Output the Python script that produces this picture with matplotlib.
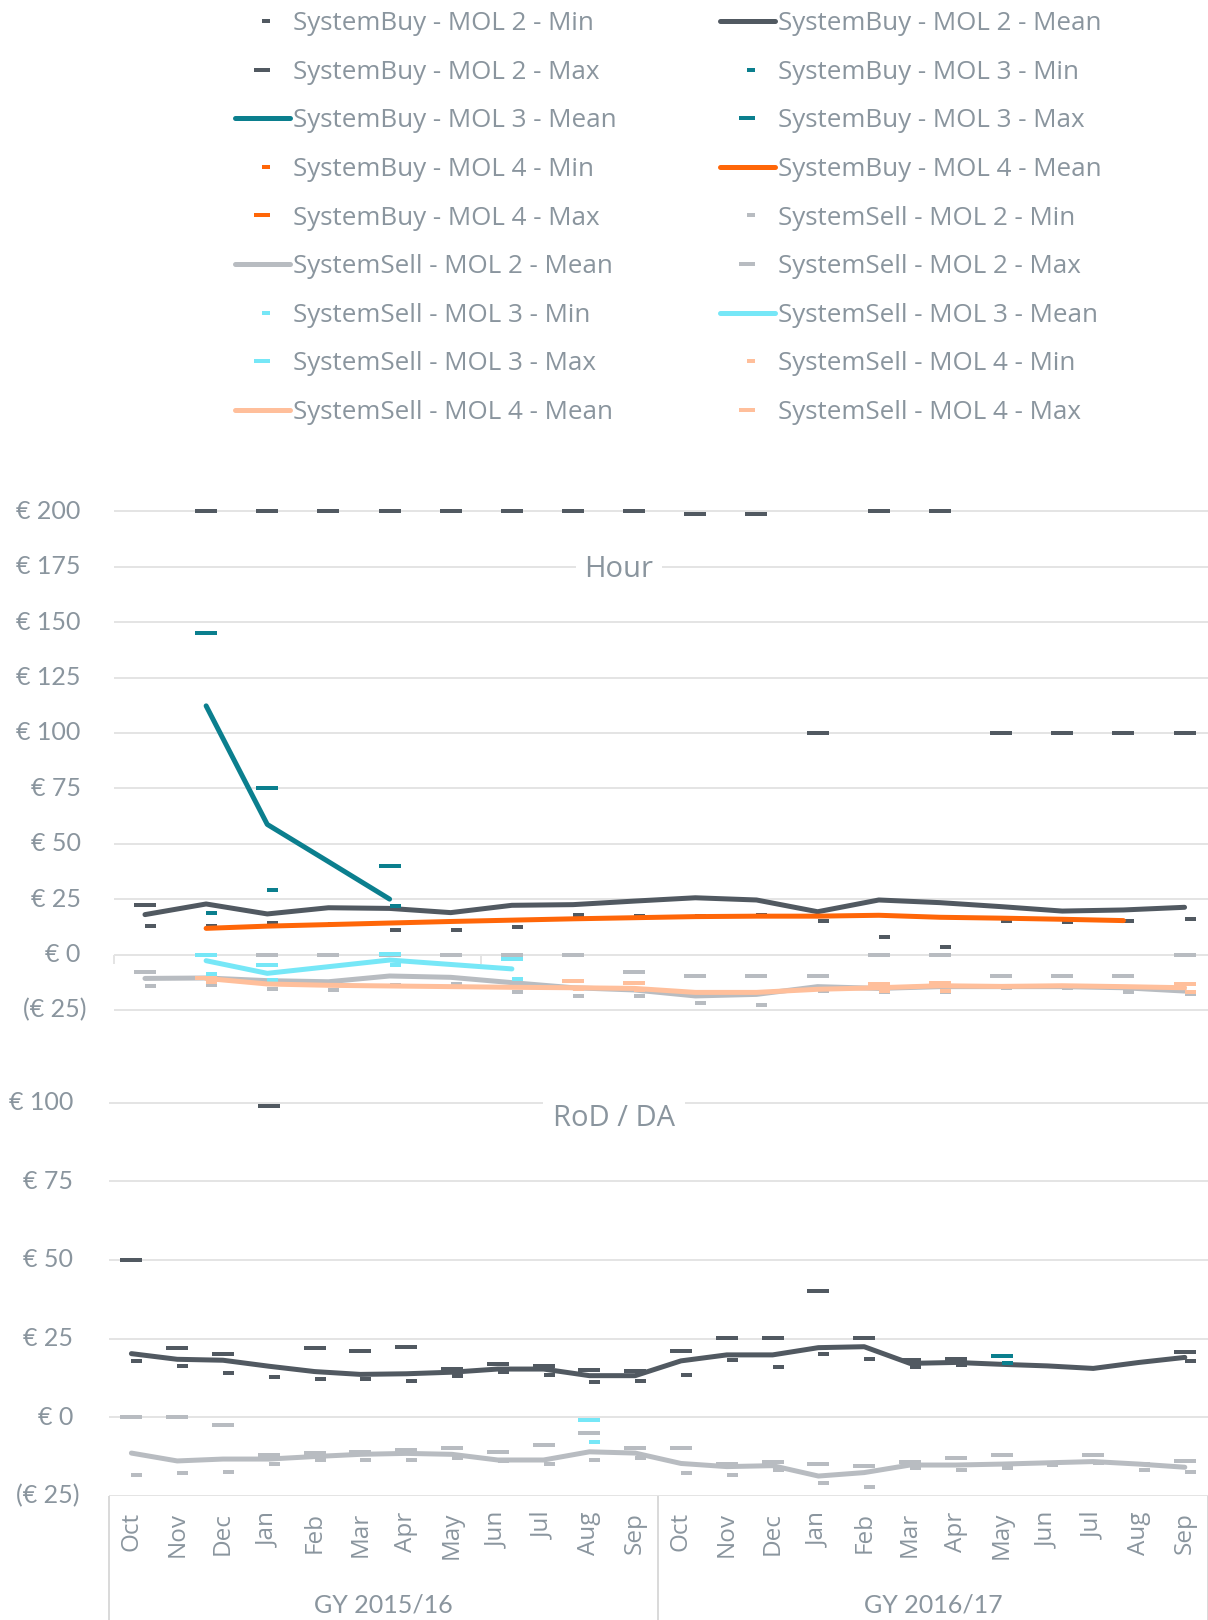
import numpy as np
import matplotlib
matplotlib.use("Agg")
import matplotlib.pyplot as plt
from matplotlib.path import Path

nan = np.nan

# ---- data: Hour panel (18 months) ----
hour_buy2_min = [12.9, 12.9, 14.1, 13.6, 10.9, 10.9, 12.3, 17.7, 17.2, 17.2, 17.7, 15.0, 7.8, 3.2, 15.0, 14.5, 15.0, 15.9]
hour_buy2_mean = [18.0, 22.8, 18.3, 21.1, 20.8, 18.9, 22.2, 22.5, 24.1, 25.6, 24.6, 19.3, 24.6, 23.4, 21.6, 19.6, 20.1, 21.3]
hour_buy2_max = [22.2, 200, 200, 200, 200, 200, 200, 200, 200, 199, 199, 100, 200, 200, 100, 100, 100, 100]
hour_buy3_min = [nan, 18.6, 29.0, nan, 22.0] + [nan] * 13
hour_buy3_mean = [nan, 112.2, 58.7, 41.9, 25.0] + [nan] * 13
hour_buy3_max = [nan, 145.0, 75.0, nan, 40.0] + [nan] * 13
hour_buy4_min = [nan] * 18
hour_buy4_mean = [nan, 11.8, 12.8, 13.5, 14.2, 14.9, 15.5, 16.1, 16.6, 17.1, 17.3, 17.3, 17.7, 16.8, 16.4, 15.9, 15.3, nan]
hour_buy4_max = [nan] * 18
hour_sell2_min = [-14.4, -13.9, -15.4, -16.2, -13.9, -13.5, -17.1, -18.9, -18.9, -22.0, -22.9, -16.5, -17.0, -16.8, -15.3, -15.3, -17.1, -18.0]
hour_sell2_mean = [-10.8, -10.6, -11.8, -12.3, -9.7, -10.3, -12.7, -15.0, -16.0, -18.7, -18.0, -14.5, -15.3, -14.5, -14.5, -14.5, -15.0, -16.5]
hour_sell2_max = [-8.0, 0, 0, 0, 0, 0, 0, 0, -8.0, -9.8, -9.8, -9.8, 0, 0, -9.8, -9.8, -9.8, 0]
hour_sell3_min = [nan, -8.9, -11.5, nan, -4.9, nan, -11.2] + [nan] * 11
hour_sell3_mean = [nan, -2.8, -8.5, -5.5, -2.5, -4.5, -6.5] + [nan] * 11
hour_sell3_max = [nan, -0.2, -4.9, nan, 0.1, nan, -2.2] + [nan] * 11
hour_sell4_min = [nan, -12.2, nan, nan, nan, nan, nan, -15.7, -16.0, nan, nan, nan, -16.5, -16.3, nan, nan, nan, -17.0]
hour_sell4_mean = [nan, -10.8, -13.3, -13.9, -14.2, -14.5, -14.8, -15.0, -15.3, -17.1, -17.1, -15.7, -15.0, -14.1, -14.4, -14.1, -14.5, -15.0]
hour_sell4_max = [nan, -10.8, nan, nan, nan, nan, nan, -11.8, -12.7, nan, nan, nan, -13.2, -13.0, nan, nan, nan, -13.3]

# ---- data: RoD / DA panel (24 months) ----
months = ["Oct", "Nov", "Dec", "Jan", "Feb", "Mar", "Apr", "May", "Jun", "Jul", "Aug", "Sep"] * 2
gas_years = ["GY 2015/16", "GY 2016/17"]
da_buy2_min = [17.9, 16.2, 13.9, 12.7, 12.0, 12.0, 11.4, 13.1, 14.5, 13.4, 11.2, 11.5, 13.3, 18.2, 15.9, 20.0, 18.4, 16.0, 16.6, nan, nan, nan, nan, 17.9]
da_buy2_mean = [20.2, 18.4, 18.1, 16.2, 14.5, 13.6, 13.8, 14.3, 15.3, 15.3, 13.2, 13.2, 17.9, 19.8, 19.8, 22.1, 22.4, 17.1, 17.4, 16.8, 16.3, 15.5, 17.4, 19.0]
da_buy2_max = [50.0, 21.9, 20.0, 98.9, 21.9, 20.9, 22.2, 15.2, 16.8, 16.4, 15.0, 14.6, 20.9, 25.1, 25.1, 40.0, 25.1, 18.2, 18.4, nan, nan, nan, nan, 20.6]
da_buy3_min = [nan] * 19 + [17.1] + [nan] * 4
da_buy3_max = [nan] * 19 + [19.4] + [nan] * 4
da_sell2_min = [-18.4, -17.6, -17.3, -15.0, -13.5, -13.5, -13.5, -12.9, -14.0, -14.8, -13.6, -13.0, -17.6, -18.4, -16.8, -21.0, -22.1, -16.2, -16.8, -16.2, -15.2, -14.6, -16.8, -17.3]
da_sell2_mean = [-11.4, -13.9, -13.3, -13.3, -12.5, -11.8, -11.5, -11.8, -13.6, -13.6, -11.0, -11.4, -14.7, -15.7, -15.4, -18.7, -17.6, -15.2, -15.2, -14.9, -14.5, -14.1, -14.9, -15.9]
da_sell2_max = [0, 0, -2.6, -12.0, -11.5, -11.0, -10.5, -9.9, -11.2, -8.9, -5.1, -9.9, -9.9, -15.0, -14.3, -15.0, -15.4, -14.3, -13.1, -12.1, -14.5, -12.1, -14.9, -14.0]
da_sell3_min = [nan] * 10 + [-8.0] + [nan] * 13
da_sell3_max = [nan] * 10 + [-1.0] + [nan] * 13

# ---- style ----
DARK, TEAL, ORANGE = "#515961", "#0b7f8e", "#ff6608"
LGRAY, CYAN, PEACH = "#b8bcc1", "#76e7f7", "#ffbf9b"
TXT, GRID = "#8a959e", "#e4e4e4"
plt.rcParams["font.family"] = ["Open Sans", "DejaVu Sans"]

# dash markers: Max = full dash, Min = right half of the dash
h = 0.214
MAX_MARK = Path([(-1, -h), (1, -h), (1, h), (-1, h), (-1, -h)], closed=True)
MIN_MARK = Path([(0, -h), (1, -h), (1, h), (0, h), (0, -h)], closed=True)
MS = 15.8
LW = 3.6

W, H = 1208, 1620
fig = plt.figure(figsize=(W / 100, H / 100), dpi=100)


def rect(x0, x1, ytop, ybot):
    return [x0 / W, 1 - ybot / H, (x1 - x0) / W, (ybot - ytop) / H]


def draw_group(ax, x, vmin, vmean, vmax, color, name):
    ax.plot(x, vmin, ls="none", marker=MIN_MARK, ms=MS, mew=0, color=color,
            clip_on=False, label=name + " - Min")
    ax.plot(x, vmean, color=color, lw=LW, solid_capstyle="round",
            solid_joinstyle="round", clip_on=False, label=name + " - Mean")
    ax.plot(x, vmax, ls="none", marker=MAX_MARK, ms=MS, mew=0, color=color,
            clip_on=False, label=name + " - Max")


def style_axes(ax, ticks, labels, label_right_px, left_px, width_px):
    for s in ax.spines.values():
        s.set_visible(False)
    ax.set_yticks(ticks)
    ax.tick_params(axis="y", length=0, labelleft=False)
    ax.grid(axis="y", color=GRID, lw=1.4)
    ax.set_axisbelow(True)
    for v, lab in zip(ticks, labels):
        shift = 6 if lab.startswith("(") else 0
        ax.text((label_right_px + shift - left_px) / width_px, v, lab,
                transform=ax.get_yaxis_transform(), ha="right", va="center",
                fontsize=18, family="Lato", color=TXT)


# ---- Hour panel ----
x_h = np.arange(18)
ax1 = fig.add_axes(rect(114.4, 1207.8, 954.5 - 2.216 * 203, 954.5 + 2.216 * 27))
ax1.set_xlim(-0.5, 17.38)
ax1.set_ylim(-27, 203)
draw_group(ax1, x_h, hour_buy2_min, hour_buy2_mean, hour_buy2_max, DARK, "SystemBuy - MOL 2")
draw_group(ax1, x_h, hour_buy3_min, hour_buy3_mean, hour_buy3_max, TEAL, "SystemBuy - MOL 3")
draw_group(ax1, x_h, hour_buy4_min, hour_buy4_mean, hour_buy4_max, ORANGE, "SystemBuy - MOL 4")
draw_group(ax1, x_h, hour_sell2_min, hour_sell2_mean, hour_sell2_max, LGRAY, "SystemSell - MOL 2")
draw_group(ax1, x_h, hour_sell3_min, hour_sell3_mean, hour_sell3_max, CYAN, "SystemSell - MOL 3")
draw_group(ax1, x_h, hour_sell4_min, hour_sell4_mean, hour_sell4_max, PEACH, "SystemSell - MOL 4")
ax1.tick_params(axis="x", length=0, labelbottom=False)
ax1.vlines([-0.5, 5.5], -4.1, 0, color=GRID, lw=1.4, clip_on=False, zorder=0.5)
style_axes(ax1, list(range(-25, 201, 25)),
           ["(€ 25)"] + ["€ %d" % v for v in range(0, 201, 25)],
           80.6, 114.4, 1207.8 - 114.4)
ax1.text(0.4615, 173.7, "Hour", transform=ax1.get_yaxis_transform(), ha="center",
         va="center", fontsize=21, color=TXT,
         bbox=dict(facecolor="white", edgecolor="none", pad=6))

# ---- RoD / DA panel ----
x_d = np.arange(24)
ax2 = fig.add_axes(rect(108.5, 1207.7, 1417.2 - 3.147 * 103, 1417.2 + 3.147 * 25))
ax2.set_xlim(-0.5, 23.5)
ax2.set_ylim(-25, 103)
nan24 = [nan] * 24
draw_group(ax2, x_d, da_buy2_min, da_buy2_mean, da_buy2_max, DARK, "SystemBuy - MOL 2")
draw_group(ax2, x_d, da_buy3_min, nan24, da_buy3_max, TEAL, "SystemBuy - MOL 3")
draw_group(ax2, x_d, da_sell2_min, da_sell2_mean, da_sell2_max, LGRAY, "SystemSell - MOL 2")
draw_group(ax2, x_d, da_sell3_min, nan24, da_sell3_max, CYAN, "SystemSell - MOL 3")
style_axes(ax2, list(range(-25, 101, 25)),
           ["(€ 25)"] + ["€ %d" % v for v in range(0, 101, 25)],
           73.4, 108.5, 1207.7 - 108.5)
ax2.set_xticks(x_d)
ax2.set_xticklabels(months, rotation=90, fontsize=17.5, color=TXT)
ax2.tick_params(axis="x", length=0, pad=11.5)
ax_h_px = 3.147 * 128
ax2.vlines([-0.5, 11.5, 23.5], -124 / ax_h_px, 0, transform=ax2.get_xaxis_transform(),
           color="#d9d9d9", lw=1.4, clip_on=False)
for i, gy in enumerate(gas_years):
    ax2.text(5.5 + 12 * i, -109 / ax_h_px, gy, transform=ax2.get_xaxis_transform(),
             ha="center", va="center", fontsize=18, family="Lato", color=TXT)
ax2.text(0.4599, 95.0, "RoD / DA", transform=ax2.get_yaxis_transform(), ha="center",
         va="center", fontsize=21, color=TXT,
         bbox=dict(facecolor="white", edgecolor="none", pad=7))

# ---- legend (row-major order over two columns) ----
handles, labels = ax1.get_legend_handles_labels()
order = list(range(0, 18, 2)) + list(range(1, 18, 2))
fig.legend([handles[i] for i in order], [labels[i] for i in order],
           loc="upper left", bbox_to_anchor=(235 / W, 1 - 11 / H), ncol=2,
           frameon=False, fontsize=18.7, labelcolor=TXT, handlelength=2.1,
           handletextpad=0.12, columnspacing=4.0, labelspacing=0.91,
           borderpad=0, borderaxespad=0, markerscale=0.77)

fig.savefig("out.png", dpi=100)
